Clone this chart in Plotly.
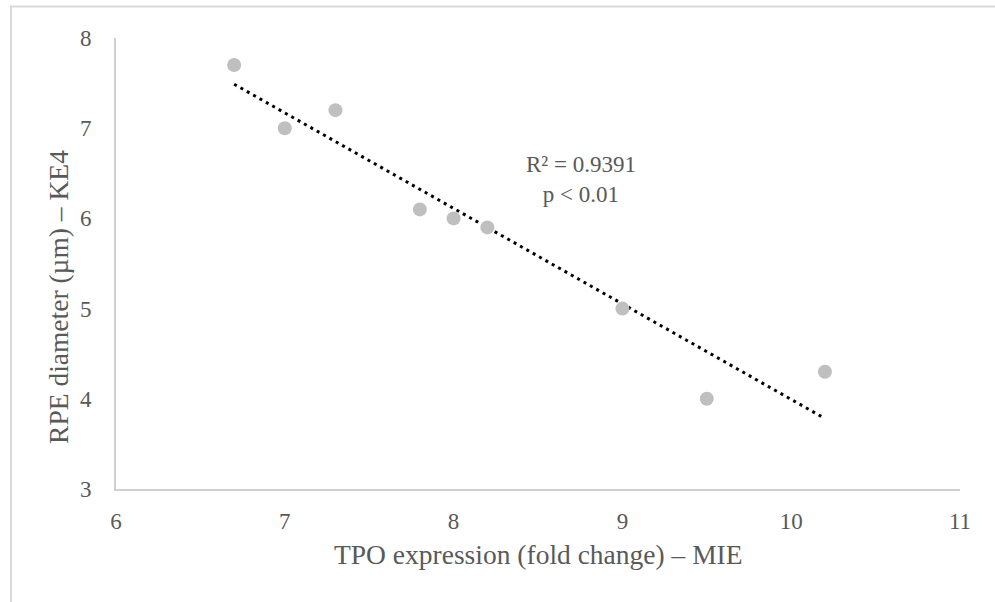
import numpy as np
import plotly.graph_objects as go

# Data
tpo_expression = [6.7, 7.0, 7.3, 7.8, 8.0, 8.2, 9.0, 9.5, 10.2]
rpe_diameter = [7.7, 7.0, 7.2, 6.1, 6.0, 5.9, 5.0, 4.0, 4.3]
x_ticks = [6, 7, 8, 9, 10, 11]
y_ticks = [3, 4, 5, 6, 7, 8]

# Linear trendline fitted from the data
slope, intercept = np.polyfit(tpo_expression, rpe_diameter, 1)
trend_x = [min(tpo_expression), max(tpo_expression)]
trend_y = [slope * v + intercept for v in trend_x]

TXT = "#595959"
FONT = "Liberation Serif"

fig = go.Figure()
fig.add_trace(go.Scatter(
    x=trend_x, y=trend_y, mode="lines",
    line=dict(color="black", width=3, dash="3px,4.3px"),
    hoverinfo="skip", showlegend=False))
fig.add_trace(go.Scatter(
    x=tpo_expression, y=rpe_diameter, mode="markers",
    marker=dict(color="#bfbfbf", size=14, line=dict(width=0)),
    showlegend=False))

fig.update_layout(
    width=995, height=602,
    margin=dict(l=116, r=35, t=38, b=113),
    paper_bgcolor="white", plot_bgcolor="white",
    font=dict(family=FONT, color=TXT, size=22),
    xaxis=dict(range=[6, 11], tickvals=x_ticks, showgrid=False, zeroline=False,
               showline=True, linecolor="#d0d0d0", linewidth=2,
               ticks="", ticklabelstandoff=10,
               tickfont=dict(family=FONT, size=23, color=TXT)),
    yaxis=dict(range=[3, 8], tickvals=y_ticks, showgrid=False, zeroline=False,
               showline=True, linecolor="#d0d0d0", linewidth=2,
               ticks="", ticklabelstandoff=18,
               tickfont=dict(family=FONT, size=23, color=TXT)),
    annotations=[
        dict(text="R² = 0.9391<br>p < 0.01", x=8.755, y=6.43, xref="x", yref="y",
             showarrow=False, align="center",
             font=dict(family=FONT, size=23, color=TXT)),
        dict(text="TPO expression (fold change) – MIE", x=0.5, y=-0.146,
             xref="paper", yref="paper", showarrow=False, yanchor="middle",
             font=dict(family=FONT, size=27.5, color=TXT)),
        dict(text="RPE diameter (µm) – KE4", x=-0.068, y=0.425,
             xref="paper", yref="paper", showarrow=False, textangle=-90,
             xanchor="center", yanchor="middle",
             font=dict(family=FONT, size=27.5, color=TXT)),
    ],
    shapes=[
        dict(type="line", xref="paper", yref="paper",
             x0=-106/844, x1=1 + 50/844, y0=1 + 31.5/451, y1=1 + 31.5/451,
             line=dict(color="#d9d9d9", width=2)),
        dict(type="line", xref="paper", yref="paper",
             x0=-105/844, x1=-105/844, y0=1 + 32/451, y1=-130/451,
             line=dict(color="#d9d9d9", width=2)),
    ],
)

fig.write_html("out.html", config={"displayModeBar": False},
               post_script="document.body.style.margin='0';")
